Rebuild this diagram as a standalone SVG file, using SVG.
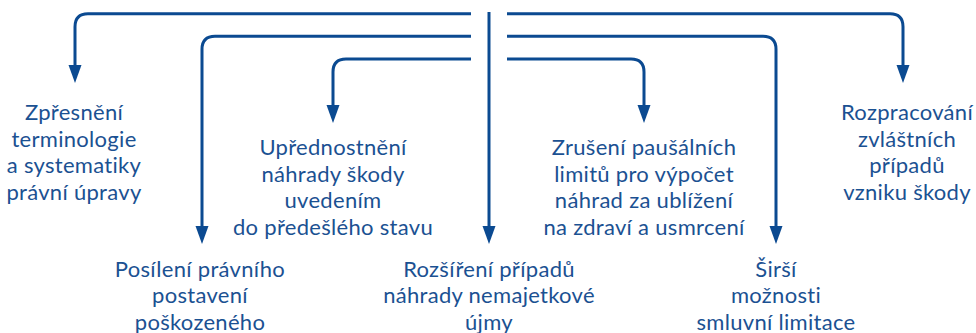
<svg xmlns="http://www.w3.org/2000/svg" width="976" height="333" viewBox="0 0 976 333">
<style>
.c{fill:none;stroke:#0b4a91;stroke-width:3}
.t{font-family:Lato,"Noto Sans",sans-serif;font-size:22px;letter-spacing:0.3px;fill:#1b5192;text-anchor:middle}
</style>
<rect width="976" height="333" fill="#fff"/>
<g id="connectors">
<line class="c" x1="489" y1="12" x2="489" y2="227"/>
<path class="c" d="M471,13.7 H88 Q75,13.7 75,26.7 V66"/>
<path class="c" d="M471,36.3 H215 Q202,36.3 202,49.3 V227"/>
<path class="c" d="M471,59 H346 Q333,59 333,72 V105"/>
<path class="c" d="M507,13.7 H890 Q903,13.7 903,26.7 V66"/>
<path class="c" d="M507,36.3 H763 Q776,36.3 776,49.3 V227"/>
<path class="c" d="M507,59 H631 Q644,59 644,72 V105"/>
<g fill="#0b4a91">
<path d="M482.5,226 H495.5 L489,244 Z"/>
<path d="M68.5,65 H81.5 L75,83 Z"/>
<path d="M195.5,226 H208.5 L202,244 Z"/>
<path d="M326.5,105 H339.5 L333,123 Z"/>
<path d="M896.5,65 H909.5 L903,83 Z"/>
<path d="M769.5,226 H782.5 L776,244 Z"/>
<path d="M637.5,105 H650.5 L644,123 Z"/>
</g>
</g>
<g id="n1"><text class="t" x="74" y="120">Zpřesnění<tspan x="74" dy="26.7">terminologie</tspan><tspan x="74" dy="26.7">a systematiky</tspan><tspan x="74" dy="26.7">právní úpravy</tspan></text></g>
<g id="n2"><text class="t" x="200" y="277">Posílení právního<tspan x="200" dy="26.3">postavení</tspan><tspan x="200" dy="26.3">poškozeného</tspan></text></g>
<g id="n3"><text class="t" x="333" y="155">Upřednostnění<tspan x="333" dy="26.7">náhrady škody</tspan><tspan x="333" dy="26.7">uvedením</tspan><tspan x="333" dy="26.7">do předešlého stavu</tspan></text></g>
<g id="n4"><text class="t" x="489" y="277">Rozšíření případů<tspan x="489" dy="26.3">náhrady nemajetkové</tspan><tspan x="489" dy="26.3">újmy</tspan></text></g>
<g id="n5"><text class="t" x="644" y="155">Zrušení paušálních<tspan x="644" dy="26.7">limitů pro výpočet</tspan><tspan x="644" dy="26.7">náhrad za ublížení</tspan><tspan x="644" dy="26.7">na zdraví a usmrcení</tspan></text></g>
<g id="n6"><text class="t" x="776" y="277">Širší<tspan x="776" dy="26.3">možnosti</tspan><tspan x="776" dy="26.3">smluvní limitace</tspan></text></g>
<g id="n7"><text class="t" x="907" y="120">Rozpracování<tspan x="907" dy="26.7">zvláštních</tspan><tspan x="907" dy="26.7">případů</tspan><tspan x="907" dy="26.7">vzniku škody</tspan></text></g>
</svg>
